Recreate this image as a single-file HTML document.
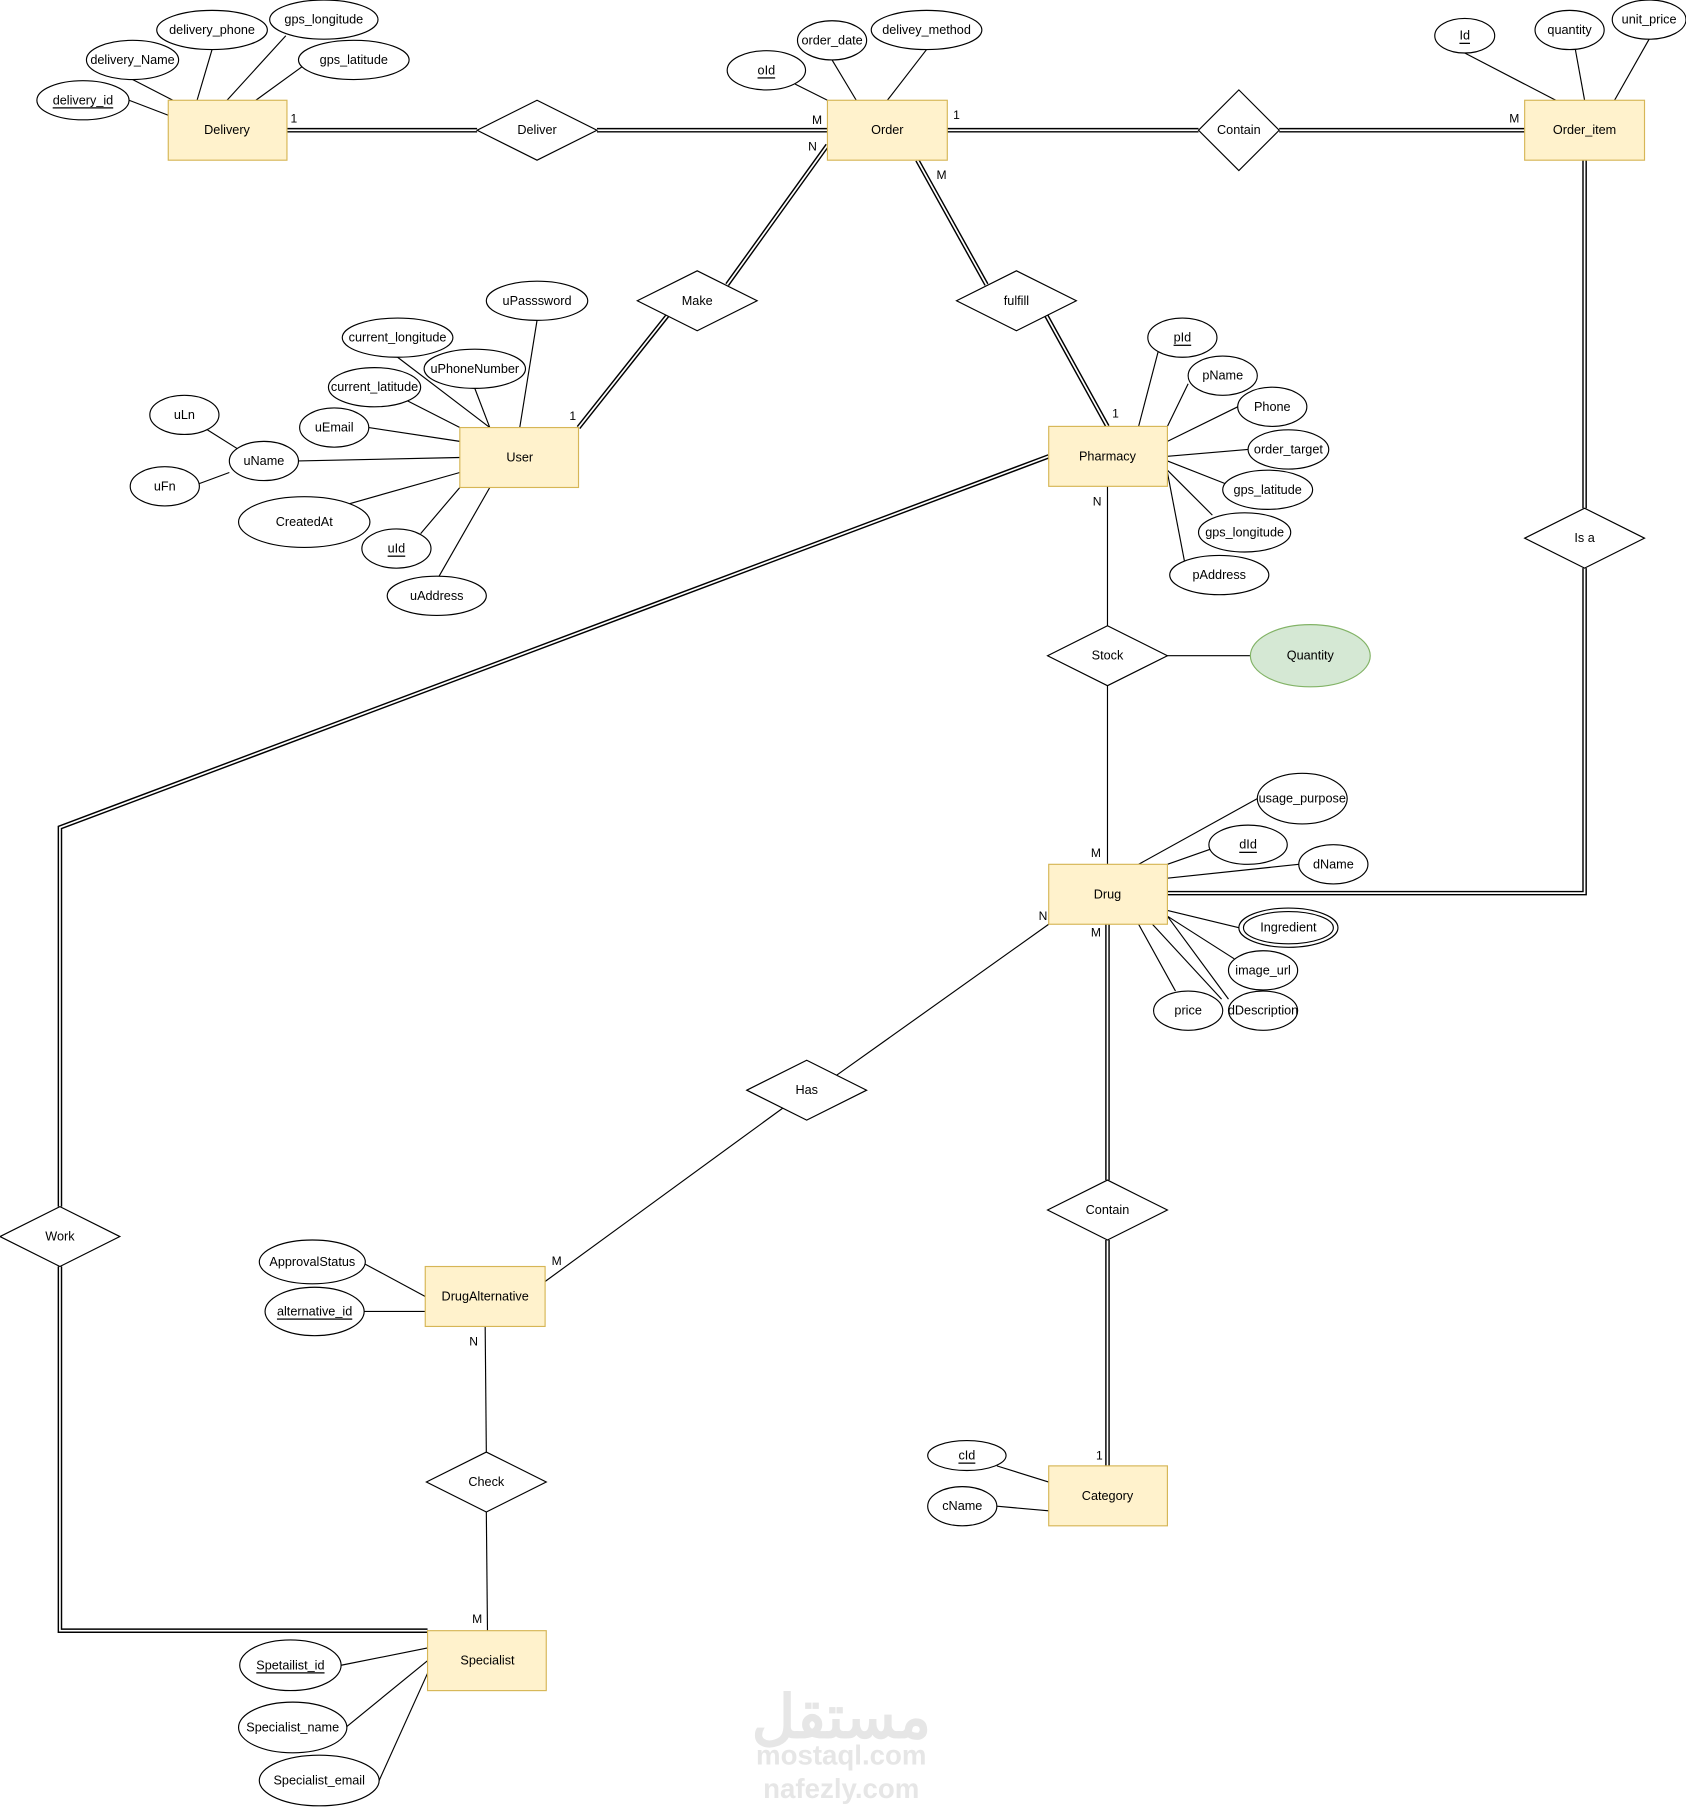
<!DOCTYPE html>
<html><head><meta charset="utf-8"><style>
html,body{margin:0;padding:0;background:#fff;}
svg{display:block;}
text{font-family:"Liberation Sans",Arial,sans-serif;font-size:11px;fill:#000;text-anchor:middle;dominant-baseline:central;}
.card{font-size:10.5px;}
</style></head><body>
<svg width="1686" height="1807" viewBox="0 0 1463 1568" xmlns="http://www.w3.org/2000/svg">
<g fill="none" stroke-linejoin="miter">
<g stroke="#000" stroke-width="4">
<path d="M249,113 L414,113"/><path d="M518,113 L718,113"/>
<path d="M822,113 L1040,113"/><path d="M1110,113 L1323,113"/>
<path d="M718,126 L631,247"/><path d="M579,274 L502,371"/>
<path d="M796,139 L856,247"/><path d="M908,274 L961,370"/>
<path d="M1375,139 L1375,441"/><path d="M1375,493 L1375,775 L1013,775"/>
<path d="M910,396 L52,718 L52,1047"/><path d="M52,1099 L52,1415 L371,1415"/>
<path d="M961,802 L961,1024"/><path d="M961,1076 L961,1272"/>
</g>
<g stroke="#fff" stroke-width="1.5">
<path d="M249,113 L414,113"/><path d="M518,113 L718,113"/>
<path d="M822,113 L1040,113"/><path d="M1110,113 L1323,113"/>
<path d="M718,126 L631,247"/><path d="M579,274 L502,371"/>
<path d="M796,139 L856,247"/><path d="M908,274 L961,370"/>
<path d="M1375,139 L1375,441"/><path d="M1375,493 L1375,775 L1013,775"/>
<path d="M910,396 L52,718 L52,1047"/><path d="M52,1099 L52,1415 L371,1415"/>
<path d="M961,802 L961,1024"/><path d="M961,1076 L961,1272"/>
</g>
<g stroke="#000" stroke-width="1">
<path d="M961,422 L961,543"/><path d="M961,595 L961,750"/><path d="M1013,569 L1085,569"/>
<path d="M910,802 L726,933"/><path d="M680,961 L473,1112"/>
<path d="M421,1151 L422,1260"/><path d="M422,1312 L423,1415"/>
<path d="M171,87 L184,43"/><path d="M197,87 L248,31"/><path d="M146,100 L112,87"/><path d="M150,87 L115,69"/><path d="M222,87 L262,58"/>
<path d="M743,87 L722,52"/><path d="M770,87 L804,43"/><path d="M718,87 L690,73"/>
<path d="M1350,87 L1271,46"/><path d="M1375,87 L1367,43"/><path d="M1401,87 L1431,34"/>
<path d="M451,371 L466,278"/><path d="M425,371 L345,310"/><path d="M425,371 L412,337"/><path d="M399,371 L350,346"/><path d="M399,383 L320,371"/><path d="M399,397 L259,400"/><path d="M399,410 L300,438"/><path d="M399,423 L365,463"/><path d="M425,423 L381,500"/>
<path d="M180,373 L207,390"/><path d="M199,410 L172,420"/>
<path d="M988,370 L1005,305"/><path d="M1013,370 L1031,333"/><path d="M1013,383 L1074,353"/><path d="M1013,396 L1083,390"/><path d="M1013,400 L1064,420"/><path d="M1013,408 L1052,447"/><path d="M1013,410 L1028,488"/>
<path d="M988,750 L1091,693"/><path d="M1013,750 L1050,737"/><path d="M1013,762 L1127,750"/>
<path d="M1013,790 L1075,805"/><path d="M1013,795 L1071,832"/><path d="M1013,795 L1066,867"/><path d="M1000,802 L1060,867"/><path d="M988,802 L1020,860"/>
<path d="M369,1125 L317,1097"/><path d="M369,1138 L316,1138"/>
<path d="M910,1286 L865,1272"/><path d="M910,1311 L865,1307"/>
<path d="M371,1430 L296,1445"/><path d="M371,1441 L300,1499"/><path d="M371,1452 L329,1545"/>
</g>
</g>
<g fill="#fff2cc" stroke="#d6b656" stroke-width="1">
<rect x="146" y="87" width="103" height="52"/><rect x="718" y="87" width="104" height="52"/>
<rect x="1323" y="87" width="104" height="52"/><rect x="399" y="371" width="103" height="52"/>
<rect x="910" y="370" width="103" height="52"/><rect x="910" y="750" width="103" height="52"/>
<rect x="369" y="1099" width="104" height="52"/><rect x="910" y="1272" width="103" height="52"/>
<rect x="371" y="1415" width="103" height="52"/>
</g>
<text x="197" y="113">Delivery</text><text x="770" y="113">Order</text><text x="1375" y="113">Order_item</text>
<text x="451" y="397">User</text><text x="961" y="396">Pharmacy</text><text x="961" y="776">Drug</text>
<text x="421" y="1125">DrugAlternative</text><text x="961" y="1298">Category</text><text x="423" y="1441">Specialist</text>
<g fill="#fff" stroke="#000" stroke-width="1">
<polygon points="414,113 466,87 518,113 466,139"/>
<polygon points="1040,113 1075,78 1110,113 1075,148"/>
<polygon points="553,261 605,235 657,261 605,287"/>
<polygon points="830,261 882,235 934,261 882,287"/>
<polygon points="1323,467 1375,441 1427,467 1375,493"/>
<polygon points="909,569 961,543 1013,569 961,595"/>
<polygon points="648,946 700,920 752,946 700,972"/>
<polygon points="909,1050 961,1024 1013,1050 961,1076"/>
<polygon points="0,1073 52,1047 104,1073 52,1099"/>
<polygon points="370,1286 422,1260 474,1286 422,1312"/>
</g>
<text x="466" y="113">Deliver</text><text x="1075" y="113">Contain</text><text x="605" y="261">Make</text>
<text x="882" y="261">fulfill</text><text x="1375" y="467">Is a</text><text x="961" y="569">Stock</text>
<text x="700" y="946">Has</text><text x="961" y="1050">Contain</text><text x="52" y="1073">Work</text><text x="422" y="1286">Check</text>
<g fill="#fff" stroke="#000" stroke-width="1">
<ellipse cx="184" cy="26" rx="48" ry="17"/><ellipse cx="281" cy="17" rx="47" ry="17"/>
<ellipse cx="115" cy="52" rx="40" ry="17"/><ellipse cx="307" cy="52" rx="48" ry="17"/>
<ellipse cx="72" cy="87" rx="40" ry="17"/>
<ellipse cx="722" cy="35" rx="30" ry="17"/><ellipse cx="804" cy="26" rx="48" ry="17"/><ellipse cx="665" cy="61" rx="34" ry="17"/>
<ellipse cx="1271" cy="31" rx="26" ry="15"/><ellipse cx="1362" cy="26" rx="30" ry="17"/><ellipse cx="1431" cy="17" rx="32" ry="17"/>
<ellipse cx="466" cy="261" rx="44" ry="17"/><ellipse cx="345" cy="293" rx="48" ry="17"/>
<ellipse cx="412" cy="320" rx="44" ry="17"/><ellipse cx="325" cy="336" rx="40" ry="17"/>
<ellipse cx="160" cy="360" rx="30" ry="17"/><ellipse cx="290" cy="371" rx="30" ry="17"/>
<ellipse cx="229" cy="400" rx="30" ry="17"/><ellipse cx="143" cy="422" rx="30" ry="17"/>
<ellipse cx="264" cy="453" rx="57" ry="22"/><ellipse cx="344" cy="476" rx="30" ry="17"/>
<ellipse cx="379" cy="517" rx="43" ry="17"/>
<ellipse cx="1026" cy="293" rx="30" ry="17"/><ellipse cx="1061" cy="326" rx="30" ry="17"/>
<ellipse cx="1104" cy="353" rx="30" ry="17"/><ellipse cx="1118" cy="390" rx="35" ry="17"/>
<ellipse cx="1100" cy="425" rx="39" ry="17"/><ellipse cx="1080" cy="462" rx="40" ry="17"/>
<ellipse cx="1058" cy="499" rx="43" ry="17"/>
<ellipse cx="1130" cy="693" rx="39" ry="22"/><ellipse cx="1083" cy="733" rx="34" ry="17"/>
<ellipse cx="1157" cy="750" rx="30" ry="17"/>
<ellipse cx="1118" cy="805" rx="43" ry="17"/><ellipse cx="1118" cy="805" rx="39" ry="14"/>
<ellipse cx="1096" cy="842" rx="30" ry="17"/><ellipse cx="1031" cy="877" rx="30" ry="17"/>
<ellipse cx="1096" cy="877" rx="30" ry="17"/>
<ellipse cx="271" cy="1095" rx="46" ry="19"/><ellipse cx="273" cy="1138" rx="43" ry="21"/>
<ellipse cx="839" cy="1263" rx="34" ry="13"/><ellipse cx="835" cy="1307" rx="30" ry="17"/>
<ellipse cx="252" cy="1445" rx="44" ry="22"/><ellipse cx="254" cy="1499" rx="47" ry="22"/>
<ellipse cx="277" cy="1545" rx="52" ry="22"/>
</g>
<ellipse cx="1137" cy="569" rx="52" ry="27" fill="#d5e8d4" stroke="#82b366"/>
<text x="1137" y="569">Quantity</text>
<text x="184" y="26">delivery_phone</text><text x="281" y="17">gps_longitude</text>
<text x="115" y="52">delivery_Name</text><text x="307" y="52">gps_latitude</text>
<text x="72" y="87" text-decoration="underline">delivery_id</text>
<text x="722" y="35">order_date</text><text x="804" y="26">delivey_method</text>
<text x="665" y="61" text-decoration="underline">oId</text>
<text x="1271" y="31" text-decoration="underline">Id</text><text x="1362" y="26">quantity</text><text x="1431" y="17">unit_price</text>
<text x="466" y="261">uPasssword</text><text x="345" y="293">current_longitude</text>
<text x="412" y="320">uPhoneNumber</text><text x="325" y="336">current_latitude</text>
<text x="160" y="360">uLn</text><text x="290" y="371">uEmail</text><text x="229" y="400">uName</text>
<text x="143" y="422">uFn</text><text x="264" y="453">CreatedAt</text>
<text x="344" y="476" text-decoration="underline">uId</text><text x="379" y="517">uAddress</text>
<text x="1026" y="293" text-decoration="underline">pId</text><text x="1061" y="326">pName</text>
<text x="1104" y="353">Phone</text><text x="1118" y="390">order_target</text>
<text x="1100" y="425">gps_latitude</text><text x="1080" y="462">gps_longitude</text>
<text x="1058" y="499">pAddress</text>
<text x="1130" y="693">usage_purpose</text><text x="1083" y="733" text-decoration="underline">dId</text>
<text x="1157" y="750">dName</text><text x="1118" y="805">Ingredient</text>
<text x="1096" y="842">image_url</text><text x="1031" y="877">price</text><text x="1096" y="877">dDescription</text>
<text x="271" y="1095">ApprovalStatus</text><text x="273" y="1138" text-decoration="underline">alternative_id</text>
<text x="839" y="1263" text-decoration="underline">cId</text><text x="835" y="1307">cName</text>
<text x="252" y="1445" text-decoration="underline">Spetailist_id</text><text x="254" y="1499">Specialist_name</text>
<text x="277" y="1545">Specialist_email</text>
<g class="card">
<text x="255" y="103" class="card">1</text><text x="709" y="104" class="card">M</text>
<text x="830" y="100" class="card">1</text><text x="1314" y="103" class="card">M</text>
<text x="705" y="127" class="card">N</text><text x="817" y="152" class="card">M</text>
<text x="497" y="361" class="card">1</text><text x="968" y="359" class="card">1</text>
<text x="952" y="435" class="card">N</text><text x="951" y="740" class="card">M</text>
<text x="905" y="795" class="card">N</text><text x="951" y="809" class="card">M</text>
<text x="483" y="1094" class="card">M</text><text x="411" y="1164" class="card">N</text>
<text x="954" y="1263" class="card">1</text><text x="414" y="1405" class="card">M</text>
</g>
<text x="730" y="1490" style="font-size:52px;fill:#e6e6e6;font-weight:bold;font-family:'Liberation Sans','Noto Sans CJK SC',sans-serif">مستقل</text>
<text x="730" y="1523" style="font-size:24px;fill:#e6e6e6;font-weight:bold">mostaql.com</text>
<text x="730" y="1552" style="font-size:24px;fill:#e6e6e6;font-weight:bold">nafezly.com</text>
</svg>
</body></html>
